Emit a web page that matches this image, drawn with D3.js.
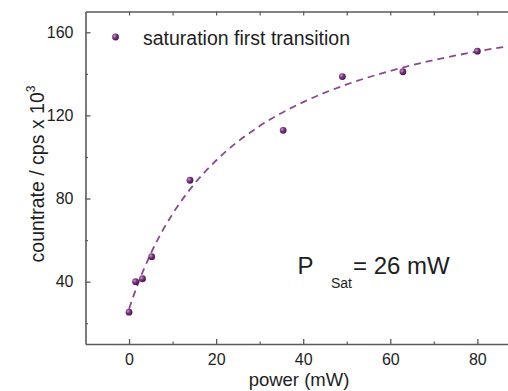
<!DOCTYPE html>
<html>
<head>
<meta charset="utf-8">
<script src="https://cdn.jsdelivr.net/npm/d3@7/dist/d3.min.js"></script>
<style>
  html, body { margin: 0; padding: 0; background: #fff; }
  svg { display: block; font-family: "Liberation Sans", Arial, Helvetica, sans-serif; }
</style>
</head>
<body>
<svg id="chart" width="508" height="391"></svg>
<script>
// ---- data ----
const powerMW   = [0, 1.5, 3.1, 5.2, 14.0, 35.4, 49.0, 62.9, 80.0];
const countrate = [25.3, 40.0, 41.4, 52.0, 88.8, 112.8, 138.7, 141.0, 150.9];

// dashed fit curve
const fitPower = [0, 2, 5, 10, 15, 20, 30, 40, 50, 60, 70, 80, 88];
const fitRate  = [27, 38.7, 53.5, 72.6, 87, 98.3, 114.9, 126.4, 134.9, 141.4, 146.6, 150.8, 153.6];

const xMajorTicks = [0, 20, 40, 60, 80];
const xMinorTicks = [10, 30, 50, 70];
const yMajorTicks = [40, 80, 120, 160];
const yMinorTicks = [20, 60, 100, 140];

const legendLabel = "saturation first transition";
const xLabel = "power (mW)";
const yLabelMain = "countrate / cps x 10";
const yLabelSup = "3";

// ---- layout ----
const svg = d3.select("#chart");
const W = 508, H = 391;
const plot = { left: 85.5, top: 11.5, bottom: 344 };

const x = d3.scaleLinear().domain([-10, 90]).range([plot.left, plot.left + 435.4]);
const y = d3.scaleLinear().domain([10, 170]).range([plot.bottom, plot.top]);

const axisColor = "#5a5a5a";
const textColor = "#1e1e1e";

const defs = svg.append("defs");
const grad = defs.append("radialGradient").attr("id", "ball")
  .attr("cx", "35%").attr("cy", "35%").attr("r", "70%");
grad.append("stop").attr("offset", "0%").attr("stop-color", "#c79ac9");
grad.append("stop").attr("offset", "45%").attr("stop-color", "#7a347c");
grad.append("stop").attr("offset", "100%").attr("stop-color", "#4a0d4e");

defs.append("clipPath").attr("id", "clip").append("rect")
  .attr("x", plot.left).attr("y", plot.top)
  .attr("width", x(90) - plot.left).attr("height", plot.bottom - plot.top);

// bottom axis
const xAxisMajor = d3.axisBottom(x).tickValues(xMajorTicks).tickSizeInner(-5).tickSizeOuter(0).tickPadding(10);
const gx = svg.append("g").attr("transform", `translate(0,${plot.bottom})`).call(xAxisMajor);
gx.select(".domain").attr("stroke", axisColor).attr("stroke-width", 1.6);
gx.selectAll(".tick line").attr("stroke", axisColor).attr("stroke-width", 1.3);
gx.selectAll(".tick text").attr("fill", textColor).attr("font-size", 16)
  .attr("font-family", "Liberation Sans, Arial, sans-serif");
const gxMinor = svg.append("g").attr("transform", `translate(0,${plot.bottom})`)
  .call(d3.axisBottom(x).tickValues(xMinorTicks).tickSizeInner(-2.5).tickSizeOuter(0).tickFormat(""));
gxMinor.select(".domain").remove();
gxMinor.selectAll(".tick line").attr("stroke", axisColor).attr("stroke-width", 1.2);

// top axis
const gxTop = svg.append("g").attr("transform", `translate(0,${plot.top})`)
  .call(d3.axisTop(x).tickValues(xMajorTicks.concat(xMinorTicks)).tickSizeInner(-4).tickSizeOuter(0).tickFormat(""));
gxTop.select(".domain").attr("stroke", axisColor).attr("stroke-width", 1.6);
gxTop.selectAll(".tick line").attr("stroke", axisColor).attr("stroke-width", 1.2);

// left axis
const gy = svg.append("g").attr("transform", `translate(${plot.left},0)`)
  .call(d3.axisLeft(y).tickValues(yMajorTicks).tickSizeInner(-5).tickSizeOuter(0).tickPadding(12));
gy.select(".domain").attr("stroke", axisColor).attr("stroke-width", 1.6);
gy.selectAll(".tick line").attr("stroke", axisColor).attr("stroke-width", 1.3);
gy.selectAll(".tick text").attr("fill", textColor).attr("font-size", 16)
  .attr("font-family", "Liberation Sans, Arial, sans-serif");
const gyMinor = svg.append("g").attr("transform", `translate(${plot.left},0)`)
  .call(d3.axisLeft(y).tickValues(yMinorTicks).tickSizeInner(-2.5).tickSizeOuter(0).tickFormat(""));
gyMinor.select(".domain").remove();
gyMinor.selectAll(".tick line").attr("stroke", axisColor).attr("stroke-width", 1.2);

// fit curve
const fitData = fitPower.map((p, i) => [p, fitRate[i]]);
const line = d3.line().x(d => x(d[0])).y(d => y(d[1])).curve(d3.curveMonotoneX);
svg.append("path").datum(fitData)
  .attr("clip-path", "url(#clip)")
  .attr("d", line)
  .attr("fill", "none")
  .attr("stroke", "#8a4a8c")
  .attr("stroke-width", 1.8)
  .attr("stroke-dasharray", "7,5");

// points
svg.append("g").selectAll("circle")
  .data(powerMW.map((p, i) => [p, countrate[i]]))
  .join("circle")
  .attr("cx", d => x(d[0]))
  .attr("cy", d => y(d[1]))
  .attr("r", 3.4)
  .attr("fill", "url(#ball)");

// legend
svg.append("circle").attr("cx", 115.5).attr("cy", 37).attr("r", 3.4).attr("fill", "url(#ball)");
svg.append("text").attr("x", 143).attr("y", 45)
  .attr("font-size", 19.5).attr("fill", textColor).text(legendLabel);

// annotation P_Sat = 26 mW
const ann = svg.append("g").attr("fill", textColor);
ann.append("text").attr("x", 297.5).attr("y", 273.5).attr("font-size", 24).text("P");
ann.append("text").attr("x", 331).attr("y", 288).attr("font-size", 14).text("Sat");
ann.append("text").attr("x", 353).attr("y", 273.5).attr("font-size", 24).text("= 26 mW");

// axis labels
svg.append("text").attr("x", 299).attr("y", 386)
  .attr("text-anchor", "middle").attr("font-size", 18.5).attr("fill", textColor).text(xLabel);

const yl = svg.append("text")
  .attr("transform", "translate(44,174) rotate(-90)")
  .attr("text-anchor", "middle").attr("font-size", 19.5).attr("fill", textColor);
yl.append("tspan").text(yLabelMain);
yl.append("tspan").attr("dy", -9).attr("font-size", 12).text(yLabelSup);
</script>
</body>
</html>
